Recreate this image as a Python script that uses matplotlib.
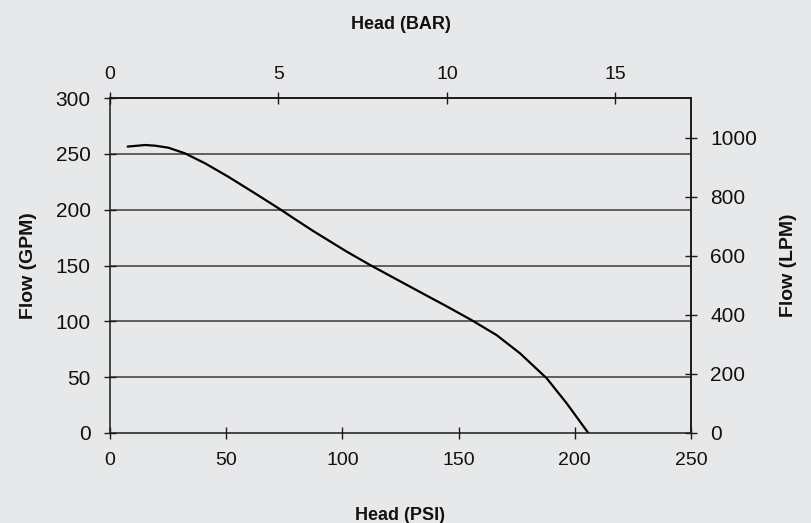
import matplotlib
matplotlib.use("Agg")
import matplotlib.pyplot as plt

# Data (Head in PSI vs Flow in GPM)
head_psi = [7.6, 15.1, 19.4, 25.1, 32.3, 40.9, 50.9, 62.4, 73.1, 79.6, 87.5,
            101.8, 112.3, 130.5, 144.9, 155.5, 166.4, 176.4, 187.9, 196.5, 205.8]
flow_gpm = [256.5, 257.9, 257.3, 255.5, 250.4, 241.5, 229.5, 214.6, 200.5, 191.5,
            180.8, 162.5, 150, 129.5, 113.4, 101.2, 87.6, 71.4, 49, 26.6, 0]

psi_ticks = [0, 50, 100, 150, 200, 250]
gpm_ticks = [0, 50, 100, 150, 200, 250, 300]
bar_ticks = [0, 5, 10, 15]
lpm_ticks = [0, 200, 400, 600, 800, 1000]

PSI_PER_BAR = 14.5
LPM_PER_GPM = 3.785

bg = "#e7e8ea"
txt = "#111111"
regular = ["Liberation Sans", "DejaVu Sans"]

plt.rcParams["font.family"] = regular

fig = plt.figure(figsize=(8.12, 5.23), dpi=100, facecolor=bg)
ax = fig.add_axes([110 / 812, 1 - 433 / 523, (691 - 110) / 812, (433 - 98) / 523])
ax.set_facecolor(bg)

ax.plot(head_psi, flow_gpm, color="#000000", lw=1.6, solid_capstyle="round",
        solid_joinstyle="round")

ax.set_xlim(0, 250)
ax.set_ylim(0, 300)
ax.set_xticks(psi_ticks)
ax.set_yticks(gpm_ticks)
for g in gpm_ticks[1:-1]:
    ax.axhline(g, color="#3a3a3a", lw=1.1, zorder=0)

for s in ax.spines.values():
    s.set_color("#1a1a1a")
    s.set_linewidth(1.1)

ax.tick_params(axis="both", direction="inout", length=8, width=1, color="#1a1a1a",
               labelcolor=txt)
ax.tick_params(axis="y", labelsize=15, pad=10)
ax.tick_params(axis="x", labelsize=14, pad=9.5)

ax.set_xlabel("Head (PSI)", fontsize=13, fontweight="bold", color=txt, labelpad=27.5)
ax.set_ylabel("Flow (GPM)", fontsize=14, fontweight="bold", color=txt, labelpad=13)

top = ax.secondary_xaxis("top", functions=(lambda p: p / PSI_PER_BAR,
                                            lambda b: b * PSI_PER_BAR))
top.set_xticks(bar_ticks)
top.tick_params(direction="inout", length=8, width=1, color="#1a1a1a",
                labelsize=14, pad=6.5, labelcolor=txt)
top.set_xlabel("Head (BAR)", fontsize=13, fontweight="bold", color=txt, labelpad=27)
top.spines["top"].set_linewidth(1.1)

right = ax.secondary_yaxis("right", functions=(lambda g: g * LPM_PER_GPM,
                                               lambda l: l / LPM_PER_GPM))
right.set_yticks(lpm_ticks)
right.tick_params(direction="inout", length=8, width=1, color="#1a1a1a",
                  labelsize=15, pad=10, labelcolor=txt)
right.set_ylabel("Flow (LPM)", fontsize=14, fontweight="bold", color=txt, labelpad=16)
right.spines["right"].set_linewidth(1.1)

fig.savefig("out.png", dpi=100, facecolor=bg)
